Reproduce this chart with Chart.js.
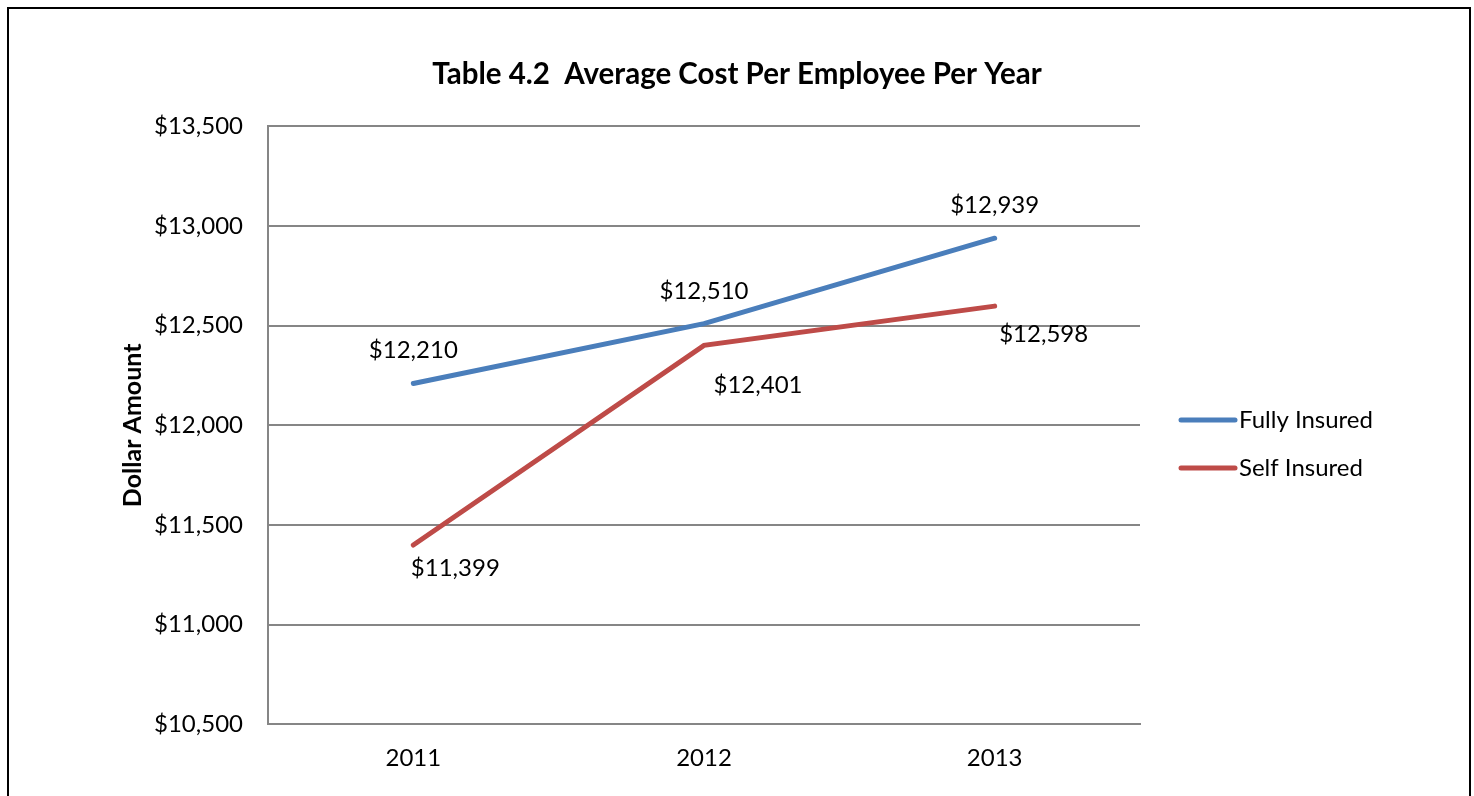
<!DOCTYPE html>
<html>
<head>
<meta charset="utf-8">
<script src="https://cdn.jsdelivr.net/npm/chart.js@4"></script>
<style>
  body { margin: 0; background: #fff; }
  #wrap { position: relative; width: 1474px; height: 796px; overflow: hidden; }
  #frame { position: absolute; left: 7px; top: 7px; width: 1460px; height: 820px; border: 2px solid #000; }
  canvas { position: absolute; left: 0; top: 0; }
</style>
</head>
<body>
<div id="wrap">
  <div id="frame"></div>
  <canvas id="chart" width="1474" height="796"></canvas>
</div>
<script>
// data
const years = ['2011', '2012', '2013'];
const fullyInsured = [12210, 12510, 12939];
const selfInsured = [11399, 12401, 12598];
const seriesNames = ['Fully Insured', 'Self Insured'];

const FONT = 'Lato, "Open Sans", sans-serif';

function money(v) {
    return '$' + Number(v).toLocaleString('en-US');
}

// value labels, placed like the Excel original
const labelOffsets = [
    [[0, -33], [0, -32], [0, -33]],
    [[42, 23], [54, 40], [49, 28]]
];
const valueLabels = {
    id: 'valueLabels',
    afterDatasetsDraw(chart) {
        const ctx = chart.ctx;
        ctx.save();
        ctx.font = '24px ' + FONT;
        ctx.fillStyle = '#000';
        ctx.textAlign = 'center';
        ctx.textBaseline = 'middle';
        chart.data.datasets.forEach(function (ds, i) {
            chart.getDatasetMeta(i).data.forEach(function (pt, j) {
                const off = labelOffsets[i][j];
                ctx.fillText(money(ds.data[j]), pt.x + off[0], pt.y + off[1]);
            });
        });
        ctx.restore();
    }
};

// legend on the right, drawn by hand so spacing matches
const sideLegend = {
    id: 'sideLegend',
    afterDraw(chart) {
        const ctx = chart.ctx;
        const x0 = chart.chartArea.right + 41;
        ctx.save();
        ctx.font = '24px ' + FONT;
        ctx.textBaseline = 'middle';
        chart.data.datasets.forEach(function (ds, i) {
            const y = 420 + i * 48;
            ctx.strokeStyle = ds.borderColor;
            ctx.lineWidth = 5;
            ctx.lineCap = 'round';
            ctx.beginPath();
            ctx.moveTo(x0, y);
            ctx.lineTo(x0 + 54, y);
            ctx.stroke();
            ctx.fillStyle = '#000';
            ctx.fillText(ds.label, x0 + 58, y);
        });
        ctx.restore();
    }
};

const ctx = document.getElementById('chart').getContext('2d');
new Chart(ctx, {
    type: 'line',
    data: {
        labels: years,
        datasets: [{
            label: seriesNames[0],
            data: fullyInsured,
            borderColor: '#4a7ebb',
            backgroundColor: '#4a7ebb',
            borderWidth: 5,
            borderCapStyle: 'round',
            pointRadius: 0,
            tension: 0
        }, {
            label: seriesNames[1],
            data: selfInsured,
            borderColor: '#be4b48',
            backgroundColor: '#be4b48',
            borderWidth: 5,
            borderCapStyle: 'round',
            pointRadius: 0,
            tension: 0
        }]
    },
    options: {
        responsive: false,
        animation: false,
        layout: {
            padding: { left: 0, right: 0, top: 0, bottom: 3 }
        },
        plugins: {
            legend: { display: false },
            tooltip: { enabled: false },
            title: {
                display: true,
                text: 'Table 4.2  Average Cost Per Employee Per Year',
                color: '#000',
                font: { family: FONT, size: 29.5, weight: 'bold', lineHeight: 1.2 },
                padding: { top: 57, bottom: 34 }
            }
        },
        scales: {
            x: {
                offset: true,
                grid: { display: false, drawTicks: false },
                border: { display: true, color: '#868686', width: 2 },
                ticks: {
                    color: '#000',
                    padding: 20,
                    font: { family: FONT, size: 24, lineHeight: 1.2 }
                }
            },
            y: {
                min: 10500,
                max: 13500,
                afterFit: function (scale) {
                    scale.width = 268;
                },
                grid: { color: '#868686', lineWidth: 2, drawTicks: false },
                border: { display: true, color: '#868686', width: 2 },
                ticks: {
                    stepSize: 500,
                    color: '#000',
                    padding: 25,
                    font: { family: FONT, size: 24 },
                    callback: function (value) {
                        return money(value);
                    }
                },
                title: {
                    display: true,
                    text: 'Dollar Amount',
                    color: '#000',
                    font: { family: FONT, size: 25, weight: 'bold', lineHeight: 1.2 },
                    padding: { top: 118, bottom: 0 }
                }
            },
            // empty right-hand axis that keeps room for the legend
            legendSpace: {
                type: 'linear',
                position: 'right',
                afterFit: function (scale) {
                    scale.width = 334;
                },
                grid: { display: false, drawTicks: false },
                border: { display: false },
                ticks: { display: false }
            }
        }
    },
    plugins: [valueLabels, sideLegend]
});
</script>
</body>
</html>
